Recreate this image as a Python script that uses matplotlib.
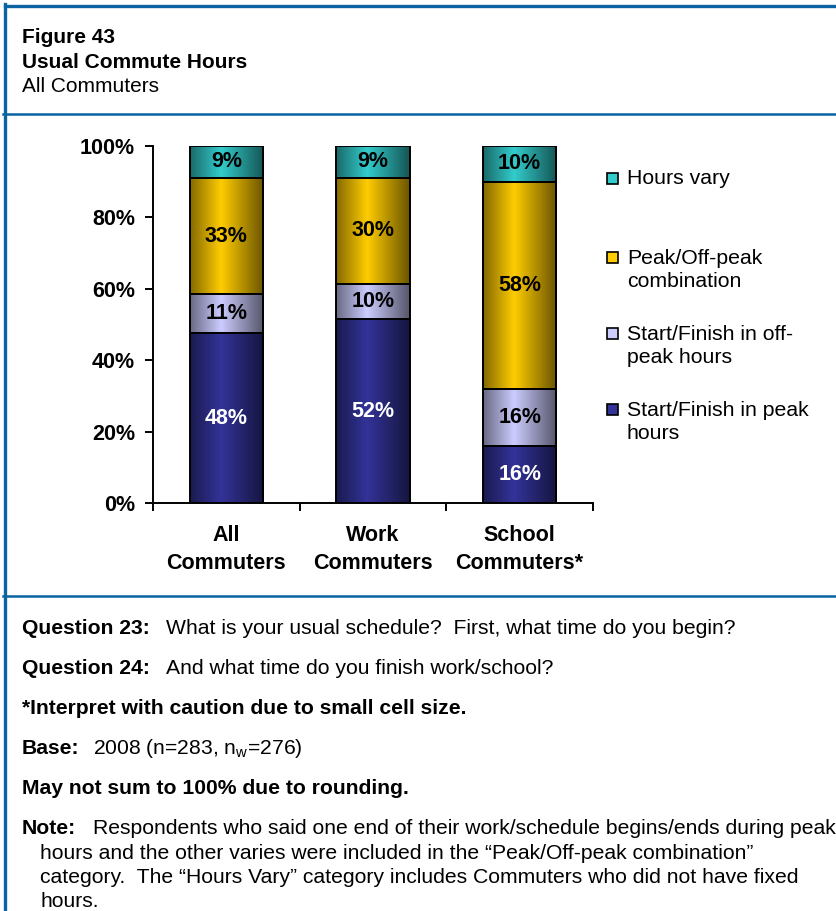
import numpy as np
import matplotlib
matplotlib.use('Agg')
from matplotlib import pyplot as plt, patches, lines
from matplotlib.colors import to_rgb

plt.rcParams['font.family'] = ['Liberation Sans', 'DejaVu Sans']

W, H = 836, 911

# data
groups = ['All\nCommuters', 'Work\nCommuters', 'School\nCommuters*']
series = ['Start/Finish in peak\nhours', 'Start/Finish in off-\npeak hours',
          'Peak/Off-peak\ncombination', 'Hours vary']
peak = [48, 52, 16]
offpeak = [11, 10, 16]
combo = [33, 30, 58]
vary = [9, 9, 10]
yticks = [0, 20, 40, 60, 80, 100]

colors = ['#333399', '#CCCCFF', '#FFCC00', '#33CCCC']
label_colors = ['white', 'black', 'black', 'black']
frame_blue = '#0B64A2'


def px(x, y):
    return x / W, 1 - y / H


def gradient(color, n=64):
    # excel style shading: darker at the edges, brightest a bit left of center
    f = np.interp(np.linspace(0, 1, n), [0, 0.42, 1], [0.52, 1.0, 0.42])
    rgb = np.array(to_rgb(color))
    return (f[:, None] * rgb[None, :])[None, :, :]


fig = plt.figure(figsize=(W / 100, H / 100), dpi=100)

# frame lines
fig.add_artist(lines.Line2D([5 / W, 1], [1 - 5.5 / H] * 2, color=frame_blue, lw=2.4))
fig.add_artist(lines.Line2D([5 / W, 5 / W], [1 - 4 / H, 0], color=frame_blue, lw=2.4))
fig.add_artist(lines.Line2D([3 / W, 1], [1 - 114 / H] * 2, color=frame_blue, lw=1.8))
fig.add_artist(lines.Line2D([3 / W, 1], [1 - 596 / H] * 2, color=frame_blue, lw=1.8))

# header
fig.text(*px(22, 43), 'Figure 43', fontsize=15, fontweight='bold', va='baseline')
fig.text(*px(22, 68), 'Usual Commute Hours', fontsize=15, fontweight='bold', va='baseline')
fig.text(*px(22, 92), 'All Commuters', fontsize=15, va='baseline')

# chart
ax = fig.add_axes([153 / W, 1 - 503 / H, (593 - 153) / W, (503 - 146) / H])
data = np.array([peak, offpeak, combo, vary], dtype=float)
shares = data / data.sum(axis=0) * 100
x = np.arange(len(groups))
bottom = np.zeros(len(groups))
for i in range(len(series)):
    bars = ax.bar(x, shares[i], 0.5, bottom=bottom, facecolor='none',
                  edgecolor='black', lw=1.4, zorder=3)
    for b in bars:
        x0, y0, w, h = b.get_x(), b.get_y(), b.get_width(), b.get_height()
        ax.imshow(gradient(colors[i]), extent=(x0, x0 + w, y0, y0 + h),
                  aspect='auto', interpolation='bilinear', zorder=2)
    for j in range(len(groups)):
        ax.text(x[j], bottom[j] + shares[i][j] / 2, f'{int(data[i][j])}%',
                ha='center', va='center', fontsize=15.5, fontweight='bold',
                color=label_colors[i], zorder=4)
    bottom += shares[i]

ax.set_xlim(-0.5, len(groups) - 0.5)
ax.set_ylim(0, 100)
ax.set_yticks(yticks)
ax.set_yticklabels([f'{t}%' for t in yticks], fontsize=15.5, fontweight='bold')
ax.set_xticks(np.arange(len(groups) + 1) - 0.5)
ax.set_xticklabels([])
ax.set_xticks(x, minor=True)
ax.set_xticklabels(groups, minor=True, fontsize=15.5, fontweight='bold', linespacing=1.4)
ax.tick_params(axis='x', which='minor', length=0, pad=16)
ax.tick_params(axis='x', which='major', length=6, width=1.4, direction='out')
ax.tick_params(axis='y', length=6, width=1.4, direction='out', pad=7)
for s in ['top', 'right']:
    ax.spines[s].set_visible(False)
for s in ['left', 'bottom']:
    ax.spines[s].set_linewidth(1.4)

# legend (top to bottom, reversed stacking order)
legend_y = [178, 270, 346, 422]
for k, i in enumerate(range(len(series) - 1, -1, -1)):
    cy = legend_y[k] if '\n' not in series[i] else legend_y[k] - 13
    fig.add_artist(patches.Rectangle(px(607, cy + 6), 11 / W, 11 / H,
                                     facecolor=colors[i], edgecolor='black', lw=1.2))
    fig.text(*px(627, legend_y[k]), series[i], fontsize=15.3, va='center', linespacing=1.25)

# footer
renderer = fig.canvas.get_renderer()
FS = 15.2


def line(y, bold, rest='', gap=16, xpos=22):
    t = fig.text(*px(xpos, y), bold, fontsize=FS, fontweight='bold', va='baseline')
    if rest:
        bb = t.get_window_extent(renderer)
        fig.text(bb.x1 / W + gap / W, 1 - y / H, rest, fontsize=FS, va='baseline')


line(634, 'Question 23:', 'What is your usual schedule?  First, what time do you begin?')
line(674, 'Question 24:', 'And what time do you finish work/school?')
line(714, '*Interpret with caution due to small cell size.')
line(754, 'Base:', '2008 (n=283, n$_\\mathregular{w}$=276)', gap=13)
line(794, 'May not sum to 100% due to rounding.')
line(834, 'Note:', 'Respondents who said one end of their work/schedule begins/ends during peak', gap=17)
fig.text(*px(40, 859), 'hours and the other varies were included in the \u201cPeak/Off-peak combination\u201d',
         fontsize=FS, va='baseline')
fig.text(*px(40, 883), 'category.  The \u201cHours Vary\u201d category includes Commuters who did not have fixed',
         fontsize=FS, va='baseline')
fig.text(*px(40, 907), 'hours.', fontsize=FS, va='baseline')

fig.savefig('out.png', dpi=100)
